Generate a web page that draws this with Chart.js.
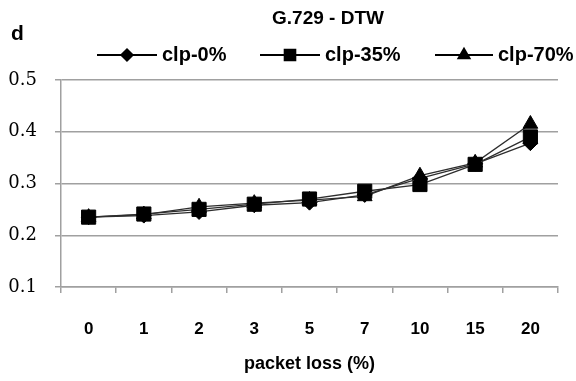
<!DOCTYPE html>
<html>
<head>
<meta charset="utf-8">
<script src="https://cdn.jsdelivr.net/npm/chart.js@4"></script>
<style>
html,body{margin:0;padding:0;background:#fff;}
#wrap{width:576px;height:381px;position:relative;}
</style>
</head>
<body>
<div id="wrap"><canvas id="c" width="576" height="381"></canvas></div>
<script>
const categories = ['0','1','2','3','5','7','10','15','20'];
const clp0  = [0.235,0.238,0.245,0.258,0.263,0.278,0.310,0.338,0.378];
const clp35 = [0.235,0.241,0.250,0.260,0.270,0.285,0.298,0.337,0.390];
const clp70 = [0.235,0.240,0.255,0.262,0.268,0.275,0.315,0.340,0.415];
const seriesNames = ['clp-0%','clp-35%','clp-70%'];
const yTicks = [0.1,0.2,0.3,0.4,0.5];
const chartTitle = 'G.729 - DTW';
const panelLetter = 'd';
const xTitle = 'packet loss (%)';

const gridColor = '#a0a0a0';
const lineColor = '#2e2e2e';
const styles = [
  {pointStyle:'rectRot', radius:7.5},
  {pointStyle:'rect', radius:10},
  {pointStyle:'triangle', radius:8.5}
];
const allSeries = [clp0, clp35, clp70];

const datasets = allSeries.map((d,i)=>({
  label: seriesNames[i],
  data: d,
  borderColor: lineColor,
  borderWidth: 1.3,
  backgroundColor: '#000',
  pointBackgroundColor: '#000',
  pointBorderColor: '#000',
  pointBorderWidth: 1,
  pointStyle: styles[i].pointStyle,
  pointRadius: styles[i].radius,
  pointHoverRadius: styles[i].radius,
  tension: 0,
  fill: false
}));

const legendPos = [
  {x1:97, x2:157, tx:162},
  {x1:260, x2:320, tx:325},
  {x1:435, x2:493, tx:498}
];

const decorPlugin = {
  id:'decor',
  afterDraw(chart){
    const ctx = chart.ctx;
    ctx.save();
    ctx.fillStyle = '#000';
    ctx.textBaseline = 'middle';
    ctx.textAlign = 'center';
    ctx.font = 'bold 19px "Liberation Sans", Arial, sans-serif';
    ctx.fillText(chartTitle, 328, 19);
    ctx.textAlign = 'left';
    ctx.font = 'bold 21px "Liberation Sans", Arial, sans-serif';
    ctx.fillText(panelLetter, 11, 34);
    const ly = 55;
    legendPos.forEach((p,i)=>{
      ctx.strokeStyle = '#000';
      ctx.lineWidth = 2;
      ctx.beginPath();
      ctx.moveTo(p.x1, ly); ctx.lineTo(p.x2, ly); ctx.stroke();
      const opts = {pointStyle: styles[i].pointStyle, radius: styles[i].radius*0.75, borderWidth:1, rotation:0};
      ctx.fillStyle = '#000';
      ctx.strokeStyle = '#000';
      if (Chart.helpers && Chart.helpers.drawPoint) {
        Chart.helpers.drawPoint(ctx, opts, (p.x1+p.x2)/2, ly);
      }
      ctx.fillStyle = '#000';
      ctx.font = 'bold 20px "Liberation Sans", Arial, sans-serif';
      ctx.textAlign = 'left';
      ctx.textBaseline = 'middle';
      ctx.fillText(seriesNames[i], p.tx, ly);
    });
    ctx.restore();
  }
};

new Chart(document.getElementById('c'), {
  type:'line',
  data:{labels:categories, datasets},
  plugins:[decorPlugin],
  options:{
    responsive:false,
    animation:false,
    devicePixelRatio:1,
    layout:{padding:{top:80, right:18, left:0, bottom:0}},
    plugins:{legend:{display:false}, title:{display:false}, tooltip:{enabled:false}},
    scales:{
      x:{
        type:'category',
        offset:true,
        grid:{display:true, drawOnChartArea:false, drawTicks:true, tickLength:6, offset:true, color:gridColor, lineWidth:1.5},
        border:{display:true, color:gridColor, width:1.5},
        ticks:{color:'#000', font:{family:'"Liberation Sans", Arial, sans-serif', size:17, weight:'bold'}, padding:26, maxRotation:0, autoSkip:false},
        title:{display:true, text:xTitle, color:'#000', font:{family:'"Liberation Sans", Arial, sans-serif', size:18, weight:'bold'}, padding:{top:0,bottom:6}},
        afterFit(s){ s.height = 94; }
      },
      y:{
        min:0.1, max:0.5,
        afterBuildTicks(s){ s.ticks = yTicks.map(v=>({value:v})); },
        grid:{color:gridColor, lineWidth:1.5, tickLength:6, drawTicks:true},
        border:{display:true, color:gridColor, width:1.5},
        ticks:{color:'#000', font:{family:'"DejaVu Serif", serif', size:18}, padding:18, callback:v=>Number(v).toFixed(1)},
        afterFit(s){ s.width = 61; }
      }
    }
  }
});
</script>
</body>
</html>
